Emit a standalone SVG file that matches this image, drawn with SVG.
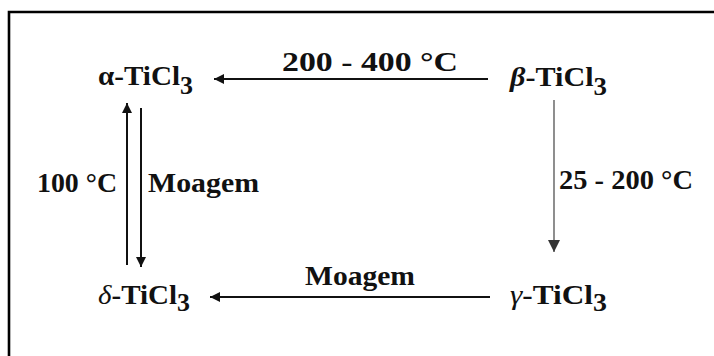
<svg xmlns="http://www.w3.org/2000/svg" width="714" height="356" viewBox="0 0 714 356">
<style>
.t{font-family:"Liberation Serif","Times New Roman",serif;font-weight:bold;font-size:28px;fill:#111}
.g{font-style:italic}
.sub{font-size:25px}
.ln{stroke:#111;stroke-width:2;fill:none}
.thin{stroke:#444;stroke-width:1.2;fill:none}
</style>
<defs>
<marker id="ah" viewBox="0 0 10 10" refX="10" refY="5" markerWidth="10" markerHeight="11" markerUnits="userSpaceOnUse" orient="auto">
<path d="M0,0 L10,5 L0,10 Z" fill="#111"/>
</marker>
<marker id="ahs" viewBox="0 0 10 10" refX="10" refY="5" markerWidth="12" markerHeight="12" markerUnits="userSpaceOnUse" orient="auto">
<path d="M0,0 L10,5 L0,10 Z" fill="#333"/>
</marker>
</defs>
<rect width="714" height="356" fill="#fff"/>
<path d="M9,356 V12 H714" fill="none" stroke="#000" stroke-width="2.6"/>

<g id="alpha">
<text class="t" x="98" y="85" textLength="95" lengthAdjust="spacingAndGlyphs">α-TiCl<tspan class="sub" dy="9">3</tspan></text>
</g>
<g id="beta">
<text class="t" x="510" y="86" textLength="97" lengthAdjust="spacingAndGlyphs"><tspan class="g">β</tspan>-TiCl<tspan class="sub" dy="9">3</tspan></text>
</g>
<g id="delta">
<text class="t" x="98" y="304" textLength="92" lengthAdjust="spacingAndGlyphs"><tspan class="g" font-weight="normal">δ</tspan>-TiCl<tspan class="sub" dy="7">3</tspan></text>
</g>
<g id="gamma">
<text class="t" x="510" y="304" textLength="97" lengthAdjust="spacingAndGlyphs"><tspan class="g" font-weight="normal">γ</tspan>-TiCl<tspan class="sub" dy="7">3</tspan></text>
</g>

<g id="connectors">
<line class="ln" x1="488" y1="79" x2="214" y2="79" marker-end="url(#ah)"/>
<line class="thin" x1="554" y1="100" x2="554" y2="252" marker-end="url(#ahs)"/>
<line class="ln" x1="127" y1="265" x2="127" y2="103" marker-end="url(#ah)"/>
<line class="ln" x1="141" y1="108" x2="141" y2="267" marker-end="url(#ah)"/>
<line class="ln" x1="490" y1="297" x2="210" y2="297" marker-end="url(#ah)"/>
</g>

<g id="labels">
<text class="t" x="282" y="71" textLength="176" lengthAdjust="spacingAndGlyphs">200 - 400 °C</text>
<text class="t" x="559" y="189" textLength="134" lengthAdjust="spacingAndGlyphs">25 - 200 °C</text>
<text class="t" x="37" y="192" textLength="80" lengthAdjust="spacingAndGlyphs">100 °C</text>
<text class="t" x="148" y="192" textLength="111" lengthAdjust="spacingAndGlyphs">Moagem</text>
<text class="t" x="305" y="285" textLength="110" lengthAdjust="spacingAndGlyphs">Moagem</text>
</g>
</svg>
